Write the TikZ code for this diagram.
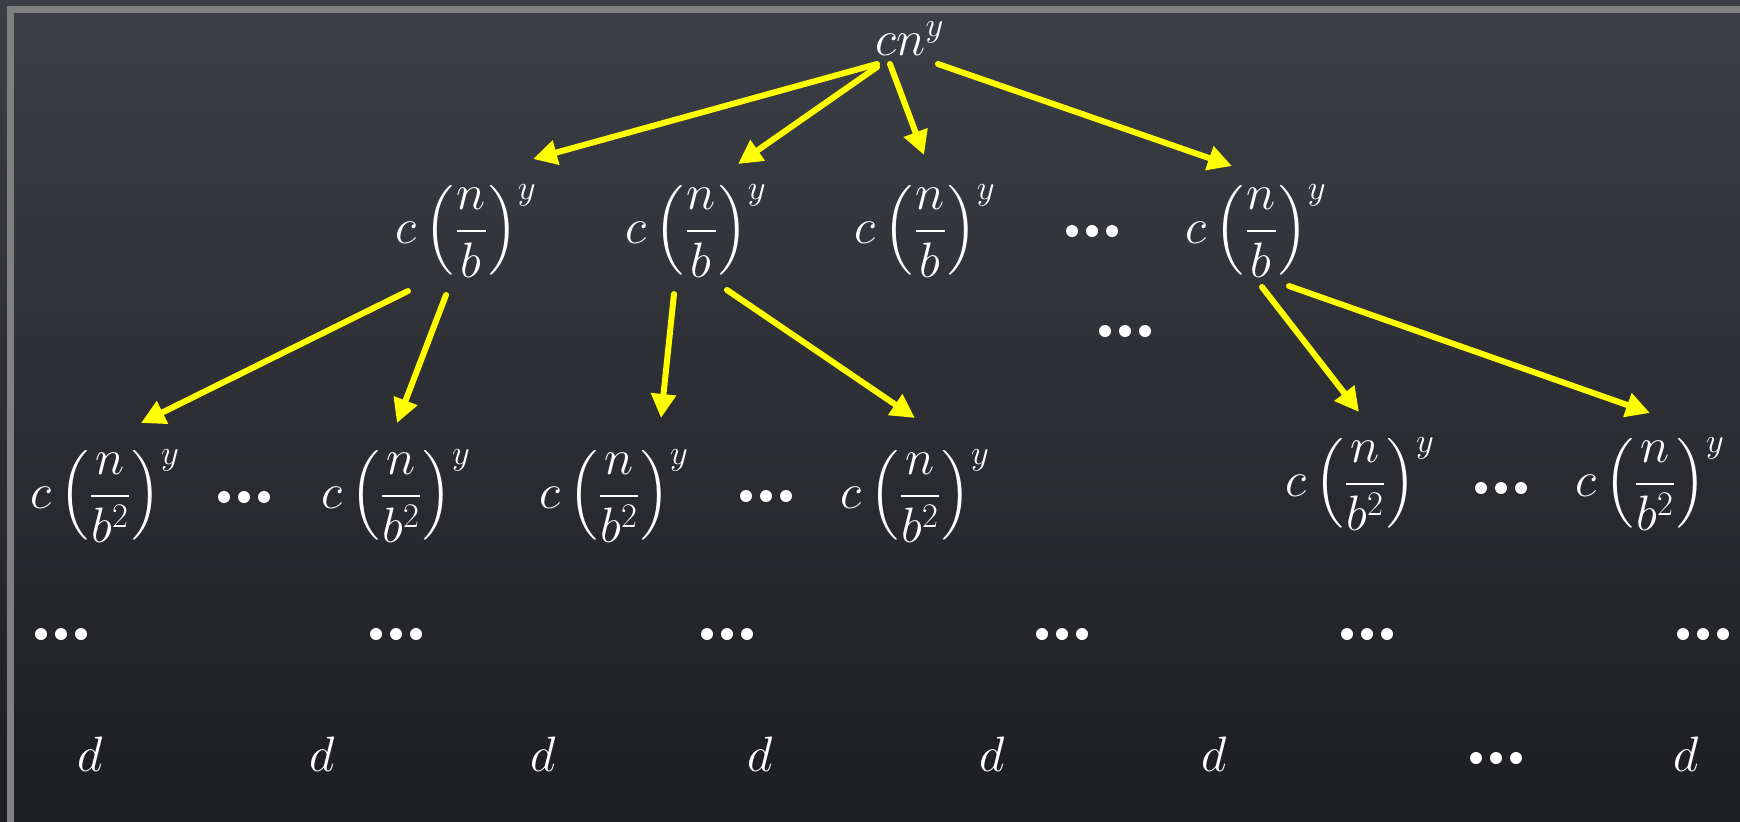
\documentclass[tikz,border=0pt]{standalone}
\usepackage{amsmath}
\usetikzlibrary{arrows.meta}
\definecolor{bgtop}{RGB}{60,63,70}
\definecolor{bgbot}{RGB}{29,30,33}
\definecolor{framegray}{RGB}{128,128,128}
\definecolor{arrowyellow}{RGB}{255,255,0}
\begin{document}
\begin{tikzpicture}[x=0.5pt,y=-0.5pt,
  mth/.style={text=white, font=\fontsize{26}{31}\selectfont, inner sep=0pt, anchor=base},
  ell/.style={inner sep=0pt, minimum width=32pt, minimum height=8pt,
    path picture={\foreach \k in {-1,0,1}
      \fill[white] ([xshift=\k*10pt]path picture bounding box.center) circle[radius=3pt];}},
  arr/.style={draw=arrowyellow, line width=3pt, line cap=round,
    -{Triangle[length=12pt,width=12pt]}}]
\fill[top color=bgtop,bottom color=bgbot] (0,0) rectangle (1740,821);
\useasboundingbox (0,0) rectangle (1740,821);
\draw[framegray, line width=3.5pt] (10,830) -- (10,9) -- (1750,9);

% root
\node[mth] (root) at (910,55) {$cn^{y}$};
% level 1
\node[mth] (a1) at (466,243) {$c\left(\dfrac{n}{b}\right)^{y}$};
\node[mth] (a2) at (696,243) {$c\left(\dfrac{n}{b}\right)^{y}$};
\node[mth] (a3) at (925,243) {$c\left(\dfrac{n}{b}\right)^{y}$};
\node[ell] (ad) at (1092,231) {};
\node[mth] (a4) at (1256,243) {$c\left(\dfrac{n}{b}\right)^{y}$};
\node[ell] (ad2) at (1125,331) {};
% level 2
\node[mth] (b1) at (105,508) {$c\left(\dfrac{n}{b^2}\right)^{y}$};
\node[ell] (bd1) at (244,497) {};
\node[mth] (b2) at (396,508) {$c\left(\dfrac{n}{b^2}\right)^{y}$};
\node[mth] (b3) at (614,508) {$c\left(\dfrac{n}{b^2}\right)^{y}$};
\node[ell] (bd2) at (766,496) {};
\node[mth] (b4) at (915,508) {$c\left(\dfrac{n}{b^2}\right)^{y}$};
\node[mth] (b5) at (1360,496) {$c\left(\dfrac{n}{b^2}\right)^{y}$};
\node[ell] (bd3) at (1501,488) {};
\node[mth] (b6) at (1650,496) {$c\left(\dfrac{n}{b^2}\right)^{y}$};
% dots row
\node[ell] (r1) at (61,634) {};
\node[ell] (r2) at (396,634) {};
\node[ell] (r3) at (727,634) {};
\node[ell] (r4) at (1062,634) {};
\node[ell] (r5) at (1367,634) {};
\node[ell] (r6) at (1703,634) {};
% leaves
\node[mth] (d1) at (90,771) {$d$};
\node[mth] (d2) at (322,771) {$d$};
\node[mth] (d3) at (543,771) {$d$};
\node[mth] (d4) at (760,771) {$d$};
\node[mth] (d5) at (992,771) {$d$};
\node[mth] (d6) at (1214,771) {$d$};
\node[ell] (dd) at (1496,758) {};
\node[mth] (d7) at (1686,771) {$d$};

% arrow end points
\coordinate (s1) at (877,64);   \coordinate (e1) at (533,159);
\coordinate (s2) at (877,67);   \coordinate (e2) at (738,164);
\coordinate (s3) at (890,64);   \coordinate (e3) at (924,155);
\coordinate (s4) at (938,64);   \coordinate (e4) at (1232,166);
\coordinate (s5) at (408,291);  \coordinate (e5) at (141,423);
\coordinate (s6) at (446,295);  \coordinate (e6) at (397,423);
\coordinate (s7) at (674,294);  \coordinate (e7) at (661,418);
\coordinate (s8) at (727,290);  \coordinate (e8) at (915,418);
\coordinate (s9) at (1262,287); \coordinate (e9) at (1359,412);
\coordinate (s10) at (1289,286); \coordinate (e10) at (1650,413);
\foreach \i in {1,...,10} \draw[arr] (s\i) -- (e\i);
\end{tikzpicture}
\end{document}
